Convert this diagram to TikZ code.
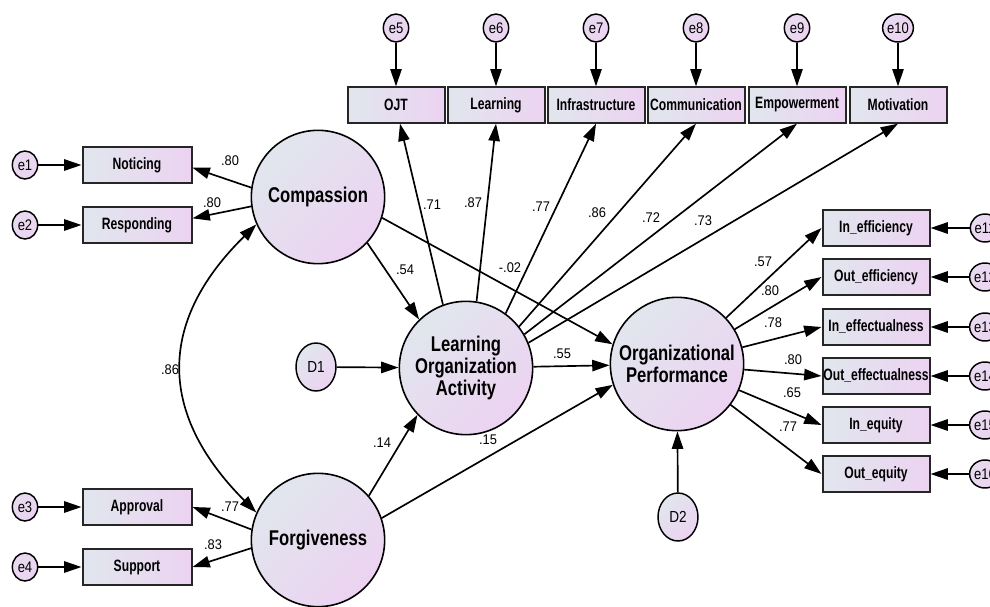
\documentclass[tikz,border=0pt]{standalone}
\usepackage{fontspec}
\setmainfont{Liberation Sans}
\newfontfamily\FBig[FakeStretch=0.78]{Liberation Sans}
\newfontfamily\FBox[FakeStretch=0.74]{Liberation Sans}
\newfontfamily\FE[FakeStretch=0.85]{Liberation Sans}
\newfontfamily\FLab[FakeStretch=0.92]{Liberation Sans}
\usetikzlibrary{shapes.geometric,arrows.meta}
\definecolor{cA}{HTML}{E1E6EE}
\definecolor{cB}{HTML}{ECD3F1}
\begin{document}
\begin{tikzpicture}[x=0.75pt,y=-0.75pt,
  arr/.style={line width=1.25pt,-{Triangle[length=13pt,width=8.5pt]}},
  dbl/.style={line width=1.25pt,{Triangle[length=13pt,width=8.5pt]}-{Triangle[length=13pt,width=8.5pt]}},
  latent/.style={circle,draw=black,line width=1.2pt,minimum size=100pt,inner sep=0pt,
    left color=cA,right color=cB,shading angle=45,align=center,
    font={\FBig\bfseries\fontsize{16pt}{16.8pt}\selectfont}},
  obs/.style={rectangle,draw=black!85,line width=1.5pt,minimum height=26.5pt,inner sep=0pt,
    left color=cA,right color=cB,font={\FBox\bfseries\fontsize{12.3pt}{14pt}\selectfont}},
  obsT/.style={obs,minimum width=72.75pt},
  obsL/.style={obs,minimum width=81.75pt},
  obsR/.style={obs,minimum width=80.25pt},
  err/.style={ellipse,draw=black,line width=1.1pt,minimum width=19pt,minimum height=21pt,inner sep=0pt,
    left color=cA!40!cB,right color=cB,shading angle=45,font={\FE\fontsize{11.5pt}{12pt}\selectfont}},
  dist/.style={ellipse,draw=black,line width=1.1pt,minimum width=30pt,minimum height=36pt,inner sep=0pt,
    left color=cA,right color=cB,shading angle=45,font={\FE\fontsize{12pt}{13pt}\selectfont}},
  lab/.style={inner sep=0pt,font={\FLab\fontsize{10.5pt}{12pt}\selectfont}}
]
\useasboundingbox (0,0) rectangle (990,607);

% latent variables
\node[latent] (comp) at (318,197) {Compassion};
\node[latent] (forg) at (318,540) {Forgiveness};
\node[latent] (loa) at (466,368) {Learning\\Organization\\Activity};
\node[latent] (op) at (677,364) {Organizational\\Performance};
\node[dist] (d1) at (316,367) {D1};
\node[dist] (d2) at (678,517) {D2};

% left indicators
\node[obsL] (notic) at (137,165) {Noticing};
\node[obsL] (resp) at (137,225) {Responding};
\node[obsL] (appr) at (137,507) {Approval};
\node[obsL] (supp) at (137,567) {Support};
\node[err] (e1) at (25,165) {e1};
\node[err] (e2) at (25,225) {e2};
\node[err] (e3) at (25,507) {e3};
\node[err] (e4) at (25,567) {e4};

% top indicators
\node[obsT] (ojt) at (396,105) {OJT};
\node[obsT] (learn) at (496,105) {Learning};
\node[obsT] (infra) at (596,105) {Infrastructure};
\node[obsT] (comm) at (696,105) {Communication};
\node[obsT] (emp) at (797,105) {Empowerment};
\node[obsT] (mot) at (898,105) {Motivation};
\node[err] (e5) at (396,28) {e5};
\node[err] (e6) at (496,28) {e6};
\node[err] (e7) at (596,28) {e7};
\node[err] (e8) at (696,28) {e8};
\node[err] (e9) at (797,28) {e9};
\node[err] (e10) at (898,28) {e10};

% right indicators
\node[obsR] (ineff) at (876,228) {In\_efficiency};
\node[obsR] (outeff) at (876,277) {Out\_efficiency};
\node[obsR] (ineffe) at (876,327) {In\_effectualness};
\node[obsR] (outeffe) at (876,376) {Out\_effectualness};
\node[obsR] (ineq) at (876,425) {In\_equity};
\node[obsR] (outeq) at (876,474) {Out\_equity};
\node[err] (e11) at (985,228) {e11};
\node[err] (e12) at (985,277) {e12};
\node[err] (e13) at (985,327) {e13};
\node[err] (e14) at (985,376) {e14};
\node[err] (e15) at (985,425) {e15};
\node[err] (e16) at (985,474) {e16};

% error arrows
\foreach \e/\b in {e1/notic,e2/resp,e3/appr,e4/supp,e5/ojt,e6/learn,e7/infra,e8/comm,e9/emp,e10/mot,
  e11/ineff,e12/outeff,e13/ineffe,e14/outeffe,e15/ineq,e16/outeq}
  \draw[arr] (\e) -- (\b);
\draw[arr] (d1) -- (loa);
\draw[arr] (d2) -- (op);

% loadings left
\draw[arr] (comp.172) -- ([yshift=-2pt]notic.east);
\draw[arr] (comp.188) -- ([yshift=5pt]resp.east);
\draw[arr] (forg.171) -- (appr.east);
\draw[arr] (forg.187) -- (supp.east);

% covariance
\draw[dbl] (comp.204) .. controls (155,324) and (160,416) .. (forg.156);

% structural paths
\draw[arr] (comp.317) -- (loa.134);
\draw[arr] (comp.342) -- (op.163);
\draw[arr] (forg.41) -- (loa.224);
\draw[arr] (forg.19) -- (op.198);
\draw[arr] (loa) -- (op);

% LOA indicators
\draw[arr] (loa.110) -- ([xshift=3pt]ojt.south);
\draw[arr] (loa.81) -- (learn.south);
\draw[arr] (loa.54) -- (infra.south);
\draw[arr] (loa.38) -- (comm.south);
\draw[arr] (loa.30) -- (emp.south);
\draw[arr] (loa.22) -- (mot.south);

% OP indicators
\foreach \b in {ineff,outeff,ineffe,outeffe,ineq,outeq}
  \draw[arr] (op) -- (\b.west);

% labels
\node[lab] (l1) at (230,161) {.80};
\node[lab] (l2) at (212,203) {.80};
\node[lab] (l3) at (170,370) {.86};
\node[lab] (l4) at (230,507) {.77};
\node[lab] (l5) at (213,545) {.83};
\node[lab] (l6) at (405,270) {.54};
\node[lab] (l7) at (510,268) {-.02};
\node[lab] (l8) at (432,205) {.71};
\node[lab] (l9) at (473,203) {.87};
\node[lab] (l10) at (541,207) {.77};
\node[lab] (l11) at (597,213) {.86};
\node[lab] (l12) at (651,218) {.72};
\node[lab] (l13) at (703,221) {.73};
\node[lab] (l14) at (562,354) {.55};
\node[lab] (l15) at (382,443) {.14};
\node[lab] (l16) at (488,440) {.15};
\node[lab] (l17) at (763,262) {.57};
\node[lab] (l18) at (770,291) {.80};
\node[lab] (l19) at (773,323) {.78};
\node[lab] (l20) at (793,360) {.80};
\node[lab] (l21) at (792,393) {.65};
\node[lab] (l22) at (788,427) {.77};
\end{tikzpicture}
\end{document}
